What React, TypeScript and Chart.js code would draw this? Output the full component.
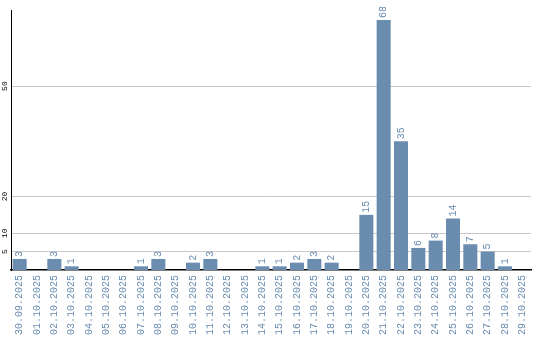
import React, { useEffect, useRef } from "react";
import { Chart, registerables } from "chart.js";

Chart.register(...registerables);

const categories = [
  "30.09.2025", "01.10.2025", "02.10.2025", "03.10.2025", "04.10.2025",
  "05.10.2025", "06.10.2025", "07.10.2025", "08.10.2025", "09.10.2025",
  "10.10.2025", "11.10.2025", "12.10.2025", "13.10.2025", "14.10.2025",
  "15.10.2025", "16.10.2025", "17.10.2025", "18.10.2025", "19.10.2025",
  "20.10.2025", "21.10.2025", "22.10.2025", "23.10.2025", "24.10.2025",
  "25.10.2025", "26.10.2025", "27.10.2025", "28.10.2025", "29.10.2025",
];
const values = [3, 0, 3, 1, 0, 0, 0, 1, 3, 0, 2, 3, 0, 0, 1, 1, 2, 3, 2, 0, 15, 68, 35, 6, 8, 14, 7, 5, 1, 0];
const yTicks = [5, 10, 20, 50];
const yMax = 70.7;

const BAR = "#6a8caf";
const LABEL = "#6a8caf";
const MONO = "'Liberation Mono', 'DejaVu Sans Mono', monospace";

const labelsPlugin = {
  id: "customLabels",
  afterDatasetsDraw(chart: any) {
    const ctx = chart.ctx;
    const meta = chart.getDatasetMeta(0);
    const yScale = chart.scales.y;
    const area = chart.chartArea;
    ctx.save();
    // value labels
    ctx.fillStyle = LABEL;
    ctx.font = `10px ${MONO}`;
    ctx.textAlign = "left";
    ctx.textBaseline = "middle";
    meta.data.forEach((bar: any, i: number) => {
      const v = values[i];
      if (!v) return;
      ctx.save();
      ctx.translate(bar.x, bar.y - 2);
      ctx.rotate(-Math.PI / 2);
      ctx.fillText(String(v), 0, 0);
      ctx.restore();
    });
    // x category labels
    ctx.textAlign = "right";
    meta.data.forEach((bar: any, i: number) => {
      ctx.save();
      ctx.translate(bar.x, area.bottom + 5);
      ctx.rotate(-Math.PI / 2);
      ctx.fillText(categories[i], 0, 0);
      ctx.restore();
    });
    // y tick labels
    ctx.fillStyle = "#000";
    ctx.font = `8px ${MONO}`;
    ctx.textAlign = "center";
    yTicks.forEach((t) => {
      const y = yScale.getPixelForValue(t);
      ctx.save();
      ctx.translate(area.left - 6, y);
      ctx.rotate(-Math.PI / 2);
      ctx.fillText(String(t), 0, 0);
      ctx.restore();
    });
    ctx.restore();
  },
};

export default function App() {
  const ref = useRef<HTMLCanvasElement>(null);
  useEffect(() => {
    document.body.style.margin = "0";
    const chart = new Chart(ref.current!, {
      type: "bar",
      data: {
        labels: categories,
        datasets: [
          {
            data: values,
            backgroundColor: BAR,
            barPercentage: 0.81,
            categoryPercentage: 1,
          },
        ],
      },
      options: {
        responsive: false,
        animation: false,
        layout: { padding: { left: 0, top: 10, right: 9, bottom: 0 } },
        plugins: { legend: { display: false }, tooltip: { enabled: false } },
        scales: {
          x: {
            grid: { display: false, drawTicks: false },
            ticks: { display: false },
            border: { display: true, color: "#000", width: 1.5 },
            afterFit: (s: any) => {
              s.height = 70;
            },
          },
          y: {
            min: 0,
            max: yMax,
            grid: { color: "#c8c8c8", lineWidth: 1, drawTicks: false },
            ticks: { display: false },
            border: { display: true, color: "#000", width: 1 },
            afterBuildTicks: (s: any) => {
              s.ticks = yTicks.map((v) => ({ value: v }));
            },
            afterFit: (s: any) => {
              s.width = 11;
            },
          },
        },
      },
      plugins: [labelsPlugin],
    });
    return () => chart.destroy();
  }, []);
  return <canvas ref={ref} width={540} height={340} style={{ display: "block" }} />;
}
